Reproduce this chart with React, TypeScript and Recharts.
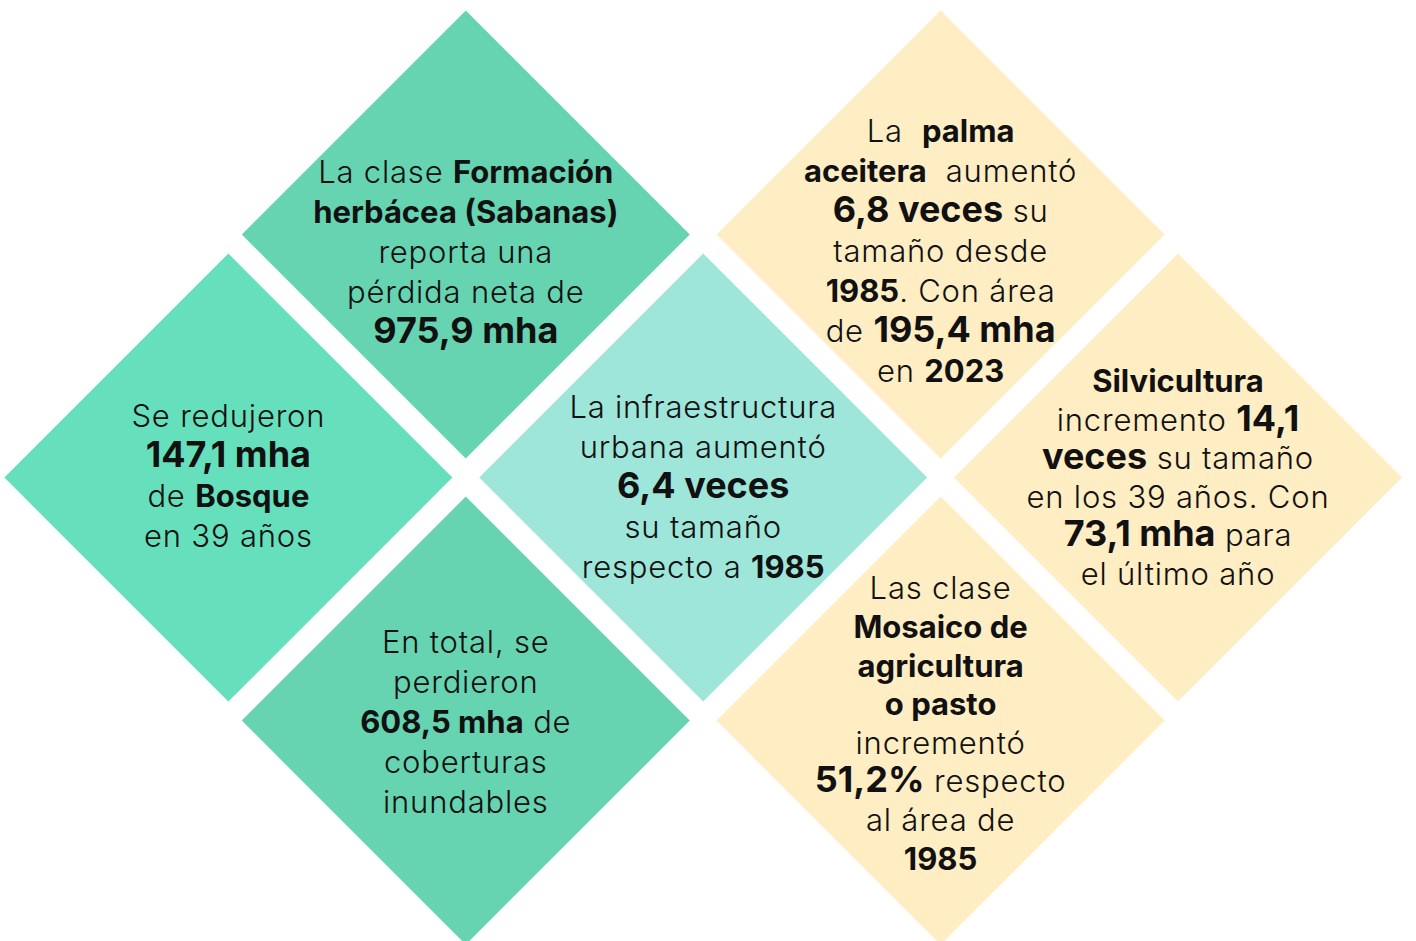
import React from 'react';
import { ScatterChart, Scatter, XAxis, YAxis } from 'recharts';

// grid slots of the seven diamonds (column, row)
const categories = ['herbacea', 'bosque', 'inundables', 'urbana', 'palma', 'silvicultura', 'mosaico'];
const columns = [1, 0, 1, 2, 3, 4, 3];
const rows = [0, 1, 2, 1, 0, 1, 2];

// text of each diamond, one string per line; **bold**, ##bold and large##
const herbaceaLines = ['La clase **Formación**', '**herbácea (Sabanas)**', 'reporta una', 'pérdida neta de', '##975,9 mha##'];
const bosqueLines = ['Se redujeron', '##147,1 mha##', 'de **Bosque**', 'en 39 años'];
const inundablesLines = ['En total, se', 'perdieron', '**608,5 mha** de', 'coberturas', 'inundables'];
const urbanaLines = ['La infraestructura', 'urbana aumentó', '##6,4 veces##', 'su tamaño', 'respecto a **1985**'];
const palmaLines = ['La  **palma**', '**aceitera**  aumentó', '##6,8 veces## su', 'tamaño desde', '**1985**. Con área', 'de ##195,4 mha##', 'en **2023**'];
const silviculturaLines = ['**Silvicultura**', 'incremento ##14,1##', '##veces## su tamaño', 'en los 39 años. Con', '##73,1 mha## para', 'el último año'];
const mosaicoLines = ['Las clase', '**Mosaico de**', '**agricultura**', '**o pasto**', 'incrementó', '##51,2%## respecto', 'al área de', '**1985**'];

const lines = [herbaceaLines, bosqueLines, inundablesLines, urbanaLines, palmaLines, silviculturaLines, mosaicoLines];

const data = categories.map((id, i) => ({ id, col: columns[i], row: rows[i], lines: lines[i] }));

// styles
const FILLS: Record<string, string> = {
  herbacea: '#66D4B1',
  bosque: '#66E0BC',
  inundables: '#66D4B1',
  urbana: '#9EE6DA',
  palma: '#FFEDC4',
  silvicultura: '#FFEDC4',
  mosaico: '#FFEDC4',
};
const TEXT_DY: Record<string, number> = {
  herbacea: 17, bosque: -2, inundables: 1, urbana: 9, palma: 16, silvicultura: 0, mosaico: 3,
};
const LINE_H: Record<string, number> = {
  herbacea: 40, bosque: 40, inundables: 40, urbana: 40, palma: 40, silvicultura: 38.6, mosaico: 38.6,
};
const HALF = 224;
const FONT = 'Inter, "Noto Sans", sans-serif';
const SIZE = 31;
const BIG = 36;

function parseLine(line: string) {
  const parts = line.split(/(\*\*[^*]+\*\*|##[^#]+##)/).filter(Boolean);
  return parts.map(p => {
    if (p.startsWith('**')) return { t: p.slice(2, -2), bold: true, big: false };
    if (p.startsWith('##')) return { t: p.slice(2, -2), bold: true, big: true };
    return { t: p, bold: false, big: false };
  });
}

const Diamond = (props: any) => {
  const { cx, cy, payload } = props;
  if (cx == null || cy == null) return null;
  const id = payload.id;
  const ls: string[] = payload.lines;
  const lh = LINE_H[id];
  const top = cy + TEXT_DY[id] - ((ls.length - 1) * lh) / 2;
  const pts = `${cx},${cy - HALF} ${cx + HALF},${cy} ${cx},${cy + HALF} ${cx - HALF},${cy}`;
  return (
    <g>
      <polygon points={pts} fill={FILLS[id]} />
      {ls.map((line, i) => (
        <text
          key={i}
          x={cx}
          y={top + i * lh + 11}
          textAnchor="middle"
          fontFamily={FONT}
          fill="#111"
          style={{ whiteSpace: 'pre' }}
        >
          {parseLine(line).map((s, j) => (
            <tspan
              key={j}
              fontWeight={s.bold ? 700 : 300}
              fontSize={s.big ? BIG : SIZE}
              letterSpacing={s.bold ? 0 : 0.8}
            >
              {s.t}
            </tspan>
          ))}
        </text>
      ))}
    </g>
  );
};

export default function App() {
  return (
    <div style={{ position: 'absolute', left: 0, top: 0, width: 1416, height: 941, background: '#fff' }}>
      <ScatterChart width={1416} height={941} margin={{ top: 0, right: 0, bottom: 0, left: 0 }}>
        <XAxis type="number" dataKey="col" hide domain={[-0.962, 5.0025]} allowDataOverflow />
        <YAxis type="number" dataKey="row" hide reversed domain={[-0.965, 2.907]} allowDataOverflow />
        <Scatter data={data} shape={<Diamond />} isAnimationActive={false} />
      </ScatterChart>
    </div>
  );
}
